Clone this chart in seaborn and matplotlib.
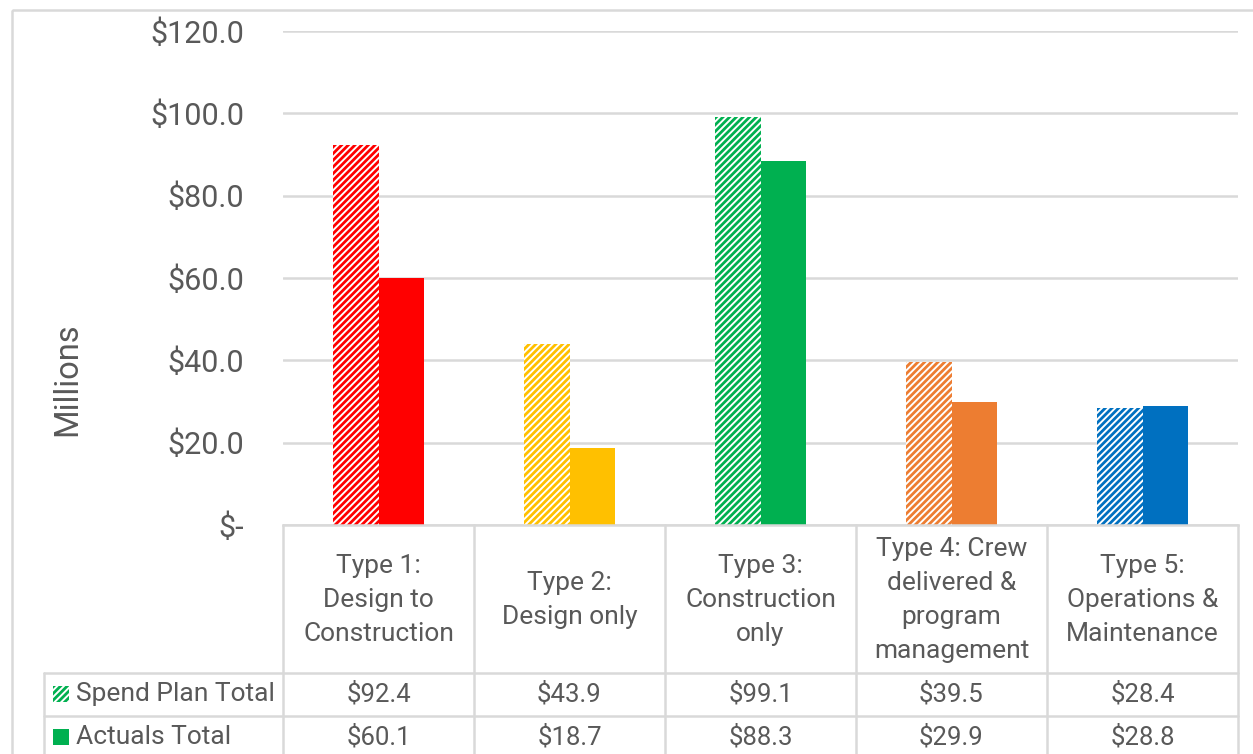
import pandas as pd
import matplotlib.pyplot as plt
import seaborn as sns
from matplotlib.patches import Rectangle

# Data
categories = ["Type 1:\nDesign to\nConstruction", "Type 2:\nDesign only",
              "Type 3:\nConstruction\nonly", "Type 4: Crew\ndelivered &\nprogram\nmanagement",
              "Type 5:\nOperations &\nMaintenance"]
spend_plan = [92.4, 43.9, 99.1, 39.5, 28.4]
actuals = [60.1, 18.7, 88.3, 29.9, 28.8]
series_names = ["Spend Plan Total", "Actuals Total"]
colors = ["#FF0000", "#FFC000", "#00B050", "#ED7D31", "#0070C0"]
y_ticks = [0, 20, 40, 60, 80, 100, 120]

df = pd.DataFrame({
    "Category": categories * 2,
    "Series": [series_names[0]] * 5 + [series_names[1]] * 5,
    "Value": spend_plan + actuals,
})

sns.set_style("white")
plt.rcParams["font.family"] = ["Roboto", "DejaVu Sans"]
plt.rcParams["hatch.linewidth"] = 2.0
text_color = "#595959"
grid_color = "#D9D9D9"

W, H = 1253, 754
fig = plt.figure(figsize=(W / 100, H / 100), dpi=100)

# overlay axes in pixel coords for border + data table
bg = fig.add_axes([0, 0, 1, 1], zorder=0)
bg.set_xlim(0, W)
bg.set_ylim(H, 0)
bg.axis("off")

# plot area
x0, x1, y_top, y_bot = 283, 1238, 31, 525
ax = fig.add_axes([x0 / W, (H - y_bot) / H, (x1 - x0) / W, (y_bot - y_top) / H], zorder=1)
ax.patch.set_alpha(0)

sns.barplot(data=df, x="Category", y="Value", hue="Series", width=0.48,
            gap=0, legend=False, ax=ax, saturation=1)

for bar, c in zip(ax.containers[0], colors):
    bar.set_facecolor("white")
    bar.set_edgecolor(c)
    bar.set_hatch("/////")
    bar.set_linewidth(0)
for bar, c in zip(ax.containers[1], colors):
    bar.set_facecolor(c)
    bar.set_edgecolor(c)
    bar.set_linewidth(0)

ax.set_ylim(0, 120)
ax.set_xlim(-0.5, 4.5)
ax.set_yticks(y_ticks)
ax.set_yticklabels(["$-" if v == 0 else f"${v:.1f}" for v in y_ticks],
                   fontsize=22, color=text_color)
ax.set_xticks([])
ax.set_xlabel("")
ax.set_ylabel("")
ax.tick_params(axis="y", length=0, pad=28)
ax.grid(axis="y", color=grid_color, linewidth=1.8)
ax.set_axisbelow(True)
for s in ["top", "right", "left"]:
    ax.spines[s].set_visible(False)
ax.spines["bottom"].set_color(grid_color)
ax.spines["bottom"].set_linewidth(1.8)

bg.text(67, 379, "Millions", rotation=90, ha="center", va="center",
        fontsize=23.5, color=text_color)

# chart border
bg.add_patch(Rectangle((12, 10), 1300, 760, fill=False, edgecolor=grid_color, linewidth=1.8))

# data table
lw = 1.8
col_w = (x1 - x0) / len(categories)
row1, row2, row3 = 673, 716, 760
for i in range(len(categories) + 1):
    bg.plot([x0 + i * col_w] * 2, [y_bot, row3], color=grid_color, lw=lw)
bg.plot([44, 44], [row1, row3], color=grid_color, lw=lw)
bg.plot([44, x1], [row1, row1], color=grid_color, lw=lw)
bg.plot([44, x1], [row2, row2], color=grid_color, lw=lw)

for i, cat in enumerate(categories):
    cx = x0 + (i + 0.5) * col_w
    bg.text(cx, 600, cat, ha="center", va="center", fontsize=19,
            color=text_color, linespacing=1.52)
    bg.text(cx, 694, f"${spend_plan[i]:.1f}", ha="center", va="center",
            fontsize=18.5, color=text_color)
    bg.text(cx, 737, f"${actuals[i]:.1f}", ha="center", va="center",
            fontsize=18.5, color=text_color)

# legend keys
bg.add_patch(Rectangle((53, 686), 16, 16, facecolor="white", edgecolor="#00B050",
                       hatch="/////", linewidth=0))
bg.add_patch(Rectangle((53, 729), 16, 16, facecolor="#00B050", linewidth=0))
bg.text(76, 694, series_names[0], ha="left", va="center", fontsize=19, color=text_color)
bg.text(76, 737, series_names[1], ha="left", va="center", fontsize=19, color=text_color)

plt.savefig("out.png", dpi=100)
